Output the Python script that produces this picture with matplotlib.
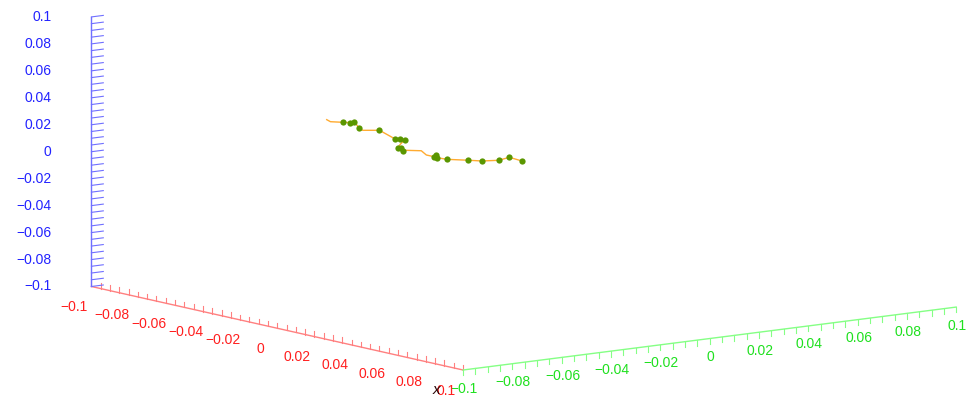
import numpy as np
import matplotlib
matplotlib.use('Agg')
import matplotlib.pyplot as plt
import matplotlib.transforms as mtransforms
from matplotlib.axes import Axes
from matplotlib.ticker import MultipleLocator, NullFormatter
from mpl_toolkits.mplot3d import proj3d

plt.rcParams['font.family'] = ['Liberation Sans', 'DejaVu Sans']

# axis ticks (same range on all three axes)
ticks = [-0.1, -0.08, -0.06, -0.04, -0.02, 0, 0.02, 0.04, 0.06, 0.08, 0.1]

line_x = [-0.0928, -0.0908, -0.0838, -0.0802, -0.0779, -0.0754, -0.0734, -0.0644, -0.0563, -0.0531,
          -0.0509, -0.0531, -0.0546, -0.0526, -0.0519, -0.0500, -0.0419, -0.0392, -0.0351, -0.0342,
          -0.0333, -0.0281, -0.0166, -0.0093, -0.0003, 0.0055, 0.0123]
line_y = [-0.01] * len(line_x)
line_z = [0.0050, 0.0041, 0.0058, 0.0067, 0.0079, 0.0042, 0.0031, 0.0059, 0.0022, 0.0027,
          0.0029, -0.0008, -0.0040, -0.0038, -0.0056, -0.0045, -0.0023, -0.0046, -0.0046, -0.0033,
          -0.0048, -0.0044, -0.0015, 0.0002, 0.0035, 0.0075, 0.0069]

pts_x = [-0.0838, -0.0802, -0.0779, -0.0754, -0.0644, -0.0563, -0.0531, -0.0509, -0.0546, -0.0526,
         -0.0519, -0.0351, -0.0342, -0.0333, -0.0281, -0.0166, -0.0093, -0.0003, 0.0055, 0.0123]
pts_y = [-0.01] * len(pts_x)
pts_z = [0.0058, 0.0067, 0.0079, 0.0042, 0.0059, 0.0022, 0.0027, 0.0029, -0.0040, -0.0038,
         -0.0056, -0.0046, -0.0033, -0.0048, -0.0044, -0.0015, 0.0002, 0.0035, 0.0075, 0.0069]


def fmt(v):
    s = '%g' % round(v, 3)
    return s.replace('-', '\u2212')


fig = plt.figure(figsize=(9.7, 3.96), dpi=100)
side = 888.3
ax = fig.add_axes([67.65 / 970, -222.15 / 396, side / 970, side / 396], projection='3d')
ax.set_proj_type('ortho')
ax.view_init(elev=9.75, azim=-37)
ax.set_box_aspect((1, 1, 0.443))
ax.set_xlim(-0.1, 0.1)
ax.set_ylim(-0.1, 0.1)
ax.set_zlim(-0.1, 0.1)
ax.grid(False)

axis_cols = {'x': ('#ff8080', '#ff1f1f'), 'y': ('#85ff85', '#1fe01f'), 'z': ('#7070ff', '#2323ff')}
for name, axis in (('x', ax.xaxis), ('y', ax.yaxis), ('z', ax.zaxis)):
    line_col, lab_col = axis_cols[name]
    axis.set_pane_color((1, 1, 1, 0))
    axis.pane.set_edgecolor((1, 1, 1, 0))
    axis.line.set_color(line_col)
    axis.line.set_linewidth(1.0)
    axis.set_major_locator(MultipleLocator(0.005))
    axis.set_major_formatter(NullFormatter())
    axis.set_tick_params(which='both', labelbottom=False)
    axis._axinfo['tick']['inward_factor'] = 0.0
    axis._axinfo['tick']['outward_factor'] = 0.25
    axis._axinfo['tick']['linewidth'] = {True: 0.8, False: 0.8}
    ax.tick_params(axis=name, colors=line_col)

# x ticks hang down, y ticks stand up, z ticks point left
ax.xaxis._axinfo['tick']['inward_factor'] = 0.25
ax.xaxis._axinfo['tick']['outward_factor'] = 0.0
ax.zaxis._axinfo['tick']['outward_factor'] = 0.3
ax.xaxis._get_tickdir = lambda position: 2
ax.yaxis._get_tickdir = lambda position: 2
ax.zaxis._get_tickdir = lambda position: 1
ax.zaxis.set_ticks_position('lower')

M = ax.get_proj()


def label_at(x, y, z, s, dx, dy, **kw):
    # place a 2D text at the projected 3D point, shifted by dx, dy pixels
    px, py, _ = proj3d.proj_transform(x, y, z, M)
    tr = mtransforms.offset_copy(ax.transData, fig=fig, x=dx, y=dy, units='dots')
    Axes.text(ax, px, py, s, transform=tr, **kw)


for t in ticks:
    label_at(t, -0.1, -0.1, fmt(t), -17, -20.5, color=axis_cols['x'][1],
             ha='center', va='center', fontsize=10)
    label_at(0.1, t, -0.1, fmt(t), 1, -18.5, color=axis_cols['y'][1],
             ha='center', va='center', fontsize=10)
    label_at(-0.1, -0.1, t, fmt(t), -40, 0, color=axis_cols['z'][1],
             ha='right', va='center', fontsize=10)
label_at(0.1, -0.1, -0.1, 'x', -27, -20, color='#2a0808', style='italic',
         ha='center', va='center', fontsize=11)

ax.plot(line_x, line_y, line_z, color='#ffa21a', lw=1.0, alpha=0.9)
ax.plot(pts_x, pts_y, pts_z, 'o', color='#5a9600', ms=4.5, mec='none')

fig.savefig('out.png')
